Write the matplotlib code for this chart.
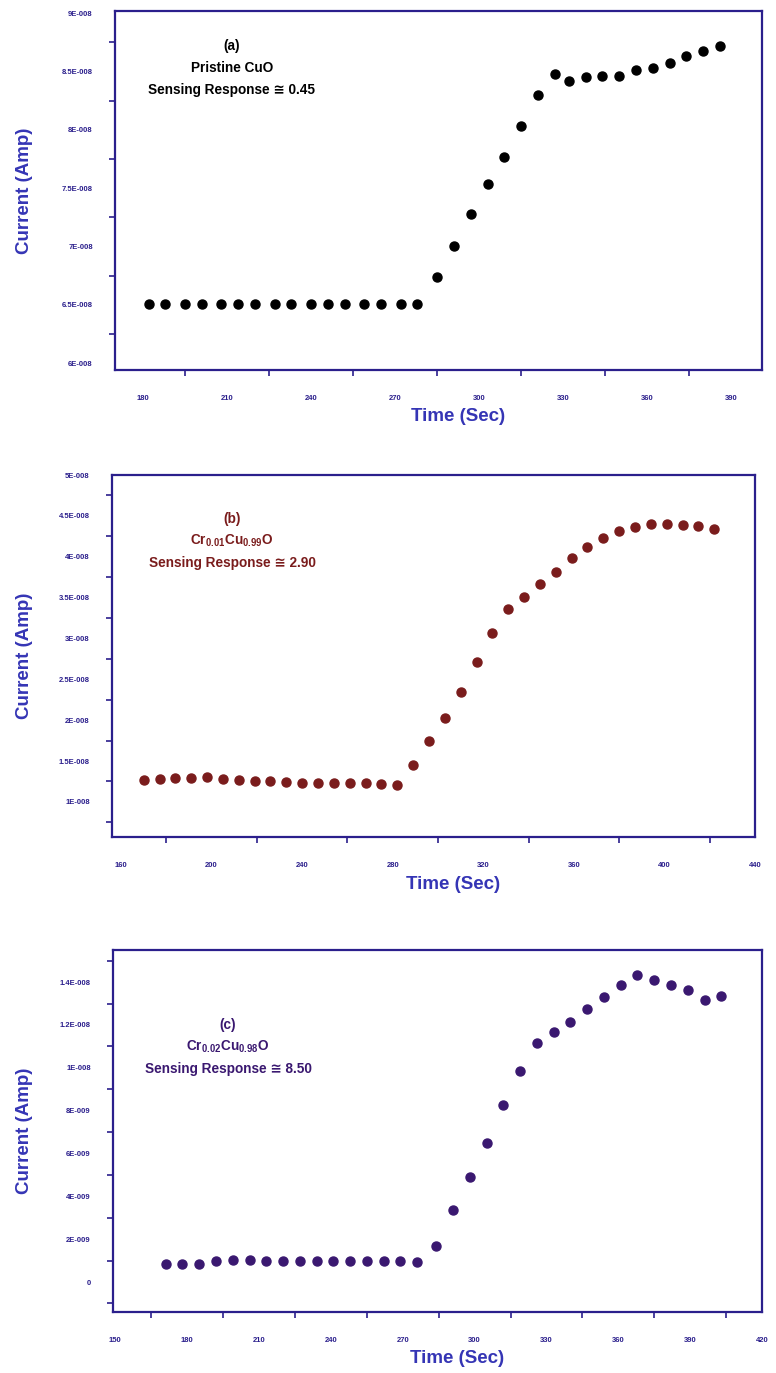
import numpy as np
import matplotlib
matplotlib.use('Agg')
import matplotlib.pyplot as plt
from matplotlib.ticker import FixedLocator

plt.rcParams['font.family'] = ['Liberation Sans', 'DejaVu Sans']
plt.rcParams['mathtext.fontset'] = 'custom'
plt.rcParams['mathtext.rm'] = 'Liberation Sans:bold'
plt.rcParams['mathtext.bf'] = 'Liberation Sans:bold'

# ---- data ----
# (a) pristine CuO, current in units of 1E-8 A
time_a = [182, 188, 195, 201, 208, 214, 220, 227, 233, 240, 246, 252, 259, 265, 272, 278,
          285, 291, 297, 303, 309, 315, 321, 327, 332, 338, 344, 350, 356, 362, 368, 374, 380, 386]
cur_a = [6.51, 6.51, 6.51, 6.51, 6.51, 6.51, 6.51, 6.51, 6.51, 6.51, 6.51, 6.51, 6.51, 6.51, 6.51, 6.51,
         6.74, 7.00, 7.28, 7.54, 7.77, 8.03, 8.30, 8.48, 8.42, 8.45, 8.46, 8.46, 8.51, 8.53, 8.57,
         8.63, 8.68, 8.72]

# (b) Cr0.01Cu0.99O, current in units of 1E-8 A
time_b = [170, 177, 184, 191, 198, 205, 212, 219, 226, 233, 240, 247, 254, 261, 268, 275, 282,
          289, 296, 303, 310, 317, 324, 331, 338, 345, 352, 359, 366, 373, 380, 387, 394, 401,
          408, 415, 422]
cur_b = [1.27, 1.28, 1.29, 1.29, 1.30, 1.28, 1.27, 1.26, 1.25, 1.24, 1.23, 1.23, 1.23, 1.23,
         1.23, 1.22, 1.21, 1.45, 1.75, 2.03, 2.35, 2.71, 3.07, 3.36, 3.51, 3.67, 3.81, 3.98,
         4.12, 4.23, 4.31, 4.36, 4.40, 4.40, 4.39, 4.38, 4.34]

# (c) Cr0.02Cu0.98O, current in units of 1E-9 A
time_c = [171, 178, 185, 192, 199, 206, 213, 220, 227, 234, 241, 248, 255, 262, 269, 276,
          284, 291, 298, 305, 312, 319, 326, 333, 340, 347, 354, 361, 368, 375, 382, 389, 396, 403]
cur_c = [0.84, 0.84, 0.84, 0.98, 1.03, 1.03, 1.00, 1.00, 0.98, 0.98, 0.98, 0.98, 0.98, 0.98,
         0.98, 0.95, 1.68, 3.36, 4.91, 6.50, 8.27, 9.86, 11.17, 11.68, 12.15, 12.76, 13.32,
         13.88, 14.35, 14.10, 13.88, 13.64, 13.18, 13.36]

xt_a = [180, 210, 240, 270, 300, 330, 360, 390]
yt_a = [6e-8, 6.5e-8, 7e-8, 7.5e-8, 8e-8, 8.5e-8, 9e-8]
ylab_a = ['6E-008', '6.5E-008', '7E-008', '7.5E-008', '8E-008', '8.5E-008', '9E-008']

xt_b = [160, 200, 240, 280, 320, 360, 400, 440]
yt_b = [1e-8, 1.5e-8, 2e-8, 2.5e-8, 3e-8, 3.5e-8, 4e-8, 4.5e-8, 5e-8]
ylab_b = ['1E-008', '1.5E-008', '2E-008', '2.5E-008', '3E-008', '3.5E-008', '4E-008',
          '4.5E-008', '5E-008']

xt_c = [150, 180, 210, 240, 270, 300, 330, 360, 390, 420]
yt_c = [0, 2e-9, 4e-9, 6e-9, 8e-9, 1e-8, 1.2e-8, 1.4e-8]
ylab_c = ['0', '2E-009', '4E-009', '6E-009', '8E-009', '1E-008', '1.2E-008', '1.4E-008']

W, H = 776, 1373
axis_col = '#2b1f8c'
label_col = '#3535b5'

fig = plt.figure(figsize=(W / 100, H / 100), dpi=100)


def panel(box, x, y, col, xlim, ylim, xt, yt, ylab, notes, note_xy, xlab_y):
    l, t, r, b = box
    ax = fig.add_axes([l / W, 1 - b / H, (r - l) / W, (b - t) / H])
    ax.plot(x, y, 'o', color=col, ms=6.5, mec=col)
    ax.set_xlim(xlim)
    ax.set_ylim(ylim)
    for s in ax.spines.values():
        s.set_color(axis_col)
        s.set_linewidth(1.6)
    # labels sit between the drawn ticks, as in the original
    ax.set_xticks(xt)
    ax.set_xticklabels([str(v) for v in xt])
    ax.set_yticks(yt)
    ax.set_yticklabels(ylab)
    xm = [(xt[i] + xt[i + 1]) / 2 for i in range(len(xt) - 1)]
    ym = [(yt[i] + yt[i + 1]) / 2 for i in range(len(yt) - 1)]
    ym = [yt[0] - (yt[1] - yt[0]) / 2] + ym + [yt[-1] + (yt[1] - yt[0]) / 2]
    ax.xaxis.set_minor_locator(FixedLocator(xm))
    ax.yaxis.set_minor_locator(FixedLocator(ym))
    ax.tick_params(which='major', length=0, labelsize=5.5, labelcolor=axis_col)
    ax.tick_params(axis='x', which='major', pad=18)
    ax.tick_params(axis='y', which='major', pad=16)
    ax.tick_params(which='minor', length=4, width=1.2, color=axis_col, direction='out')
    for lb in ax.get_xticklabels() + ax.get_yticklabels():
        lb.set_fontweight('bold')
    ax.set_xlabel('Time (Sec)', fontsize=13.5, fontweight='bold', color=label_col)
    ax.set_ylabel('Current (Amp)', fontsize=13.5, fontweight='bold', color=label_col)
    ax.xaxis.set_label_coords(0.53, -(xlab_y - b) / (b - t))
    ax.yaxis.set_label_coords(-(l - 33) / (r - l), 0.5)
    nx, ny = note_xy
    for i, s in enumerate(notes):
        ax.text((nx - l) / (r - l), 1 - (ny + 22 * i - t) / (b - t), s, transform=ax.transAxes,
                ha='center', va='center', fontsize=9.8, fontweight='bold', color=col)
    return ax


panel((115, 11, 762, 370), time_a, np.array(cur_a) * 1e-8, 'black',
      (170, 401), (5.94e-8, 9.02e-8), xt_a, yt_a, ylab_a,
      ['(a)', 'Pristine CuO', 'Sensing Response \u2245 0.45'], (232, 46), 408)

panel((112, 475, 755, 837), time_b, np.array(cur_b) * 1e-8, '#7a1c1c',
      (156, 440), (0.57e-8, 5.0e-8), xt_b, yt_b, ylab_b,
      ['(b)', r'Cr$_{\mathbf{0.01}}$Cu$_{\mathbf{0.99}}$O', 'Sensing Response \u2245 2.90'],
      (232, 519), 876)

panel((113, 950, 762, 1312), time_c, np.array(cur_c) * 1e-9, '#3a1870',
      (149, 420), (-1.4e-9, 1.55e-8), xt_c, yt_c, ylab_c,
      ['(c)', r'Cr$_{\mathbf{0.02}}$Cu$_{\mathbf{0.98}}$O', 'Sensing Response \u2245 8.50'],
      (228, 1025), 1350)

fig.savefig('out.png', dpi=100)
